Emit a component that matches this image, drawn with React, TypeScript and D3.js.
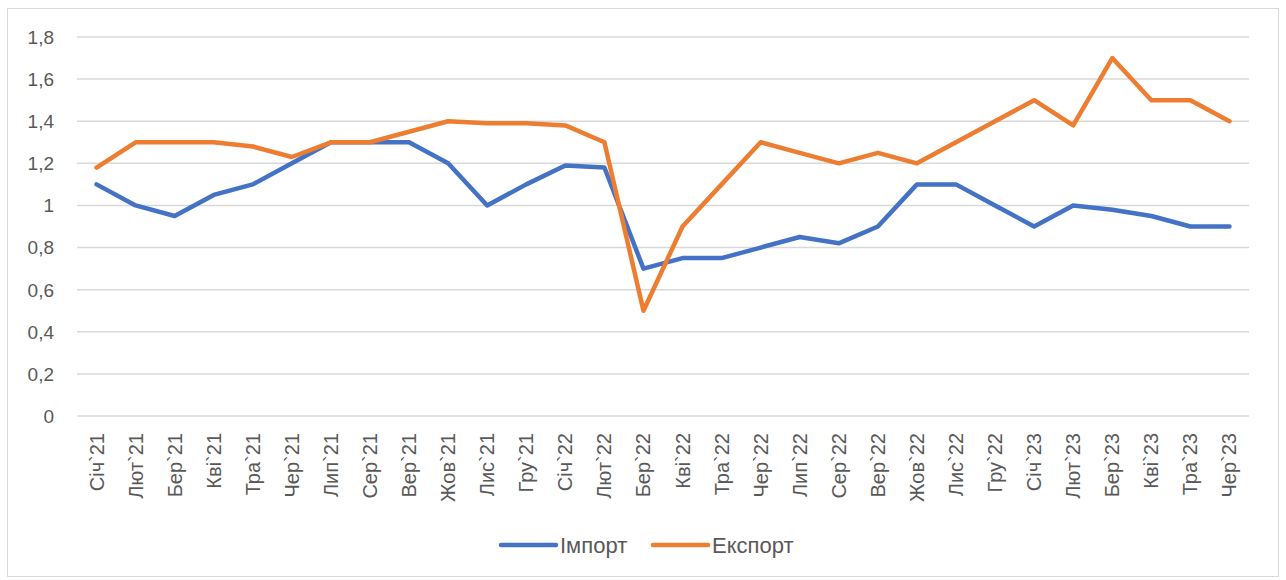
import React from 'react';
import * as d3 from 'd3';

const months = [
  'Січ`21', 'Лют`21', 'Бер`21', 'Кві`21', 'Тра`21', 'Чер`21', 'Лип`21', 'Сер`21', 'Вер`21', 'Жов`21', 'Лис`21', 'Гру`21',
  'Січ`22', 'Лют`22', 'Бер`22', 'Кві`22', 'Тра`22', 'Чер`22', 'Лип`22', 'Сер`22', 'Вер`22', 'Жов`22', 'Лис`22', 'Гру`22',
  'Січ`23', 'Лют`23', 'Бер`23', 'Кві`23', 'Тра`23', 'Чер`23',
];

const importValues = [
  1.1, 1.0, 0.95, 1.05, 1.1, 1.2, 1.3, 1.3, 1.3, 1.2, 1.0, 1.1,
  1.19, 1.18, 0.7, 0.75, 0.75, 0.8, 0.85, 0.82, 0.9, 1.1, 1.1, 1.0,
  0.9, 1.0, 0.98, 0.95, 0.9, 0.9,
];

const exportValues = [
  1.18, 1.3, 1.3, 1.3, 1.28, 1.23, 1.3, 1.3, 1.35, 1.4, 1.39, 1.39,
  1.38, 1.3, 0.5, 0.9, 1.1, 1.3, 1.25, 1.2, 1.25, 1.2, 1.3, 1.4,
  1.5, 1.38, 1.7, 1.5, 1.5, 1.4,
];

const yTicks = [0, 0.2, 0.4, 0.6, 0.8, 1, 1.2, 1.4, 1.6, 1.8];

const seriesNames = ['Імпорт', 'Експорт'];
const colors = ['#4472C4', '#ED7D31'];

const W = 1286;
const H = 580;
const plot = { left: 77, right: 1249, top: 37, bottom: 416 };
const font = '"Liberation Sans", Arial, sans-serif';

export default function App() {
  const x = d3.scaleBand<string>().domain(months).range([plot.left, plot.right]);
  const y = d3.scaleLinear().domain([0, 1.8]).range([plot.bottom, plot.top]);
  const cx = (m: string) => (x(m) as number) + x.bandwidth() / 2;

  const line = d3.line<number>()
    .x((_, i) => cx(months[i]))
    .y(d => y(d));

  // excel style: comma decimal, whole numbers without decimals
  const fmt = (v: number) => (v === 0 || v === 1 ? String(v) : v.toFixed(1).replace('.', ','));

  return (
    <svg width={W} height={H} style={{ position: 'absolute', left: 0, top: 0, background: 'white' }}>
      <rect x={7.5} y={8.5} width={1271} height={568} fill="white" stroke="#d9d9d9" />
      {yTicks.map(t => (
        <g key={t}>
          <line x1={plot.left} x2={plot.right} y1={y(t)} y2={y(t)} stroke="#d9d9d9" strokeWidth={1.5} />
          <text x={54} y={y(t)} dy="0.36em" textAnchor="end" fontFamily={font} fontSize={19} fill="#595959">
            {fmt(t)}
          </text>
        </g>
      ))}
      {months.map(m => (
        <text
          key={m}
          transform={`translate(${cx(m) + 7},${433}) rotate(-90)`}
          textAnchor="end"
          fontFamily={font}
          fontSize={20}
          fill="#595959"
        >
          {m}
        </text>
      ))}
      {[importValues, exportValues].map((vals, i) => (
        <path key={i} d={line(vals) || ''} fill="none" stroke={colors[i]} strokeWidth={4.5} strokeLinejoin="round" strokeLinecap="round" />
      ))}
      {seriesNames.map((name, i) => {
        const lx = 501 + i * 152;
        return (
          <g key={name}>
            <line x1={lx} x2={lx + 55} y1={545} y2={545} stroke={colors[i]} strokeWidth={4.5} strokeLinecap="round" />
            <text x={lx + 59} y={545} dy="0.36em" fontFamily={font} fontSize={22} fill="#595959">
              {name}
            </text>
          </g>
        );
      })}
    </svg>
  );
}
